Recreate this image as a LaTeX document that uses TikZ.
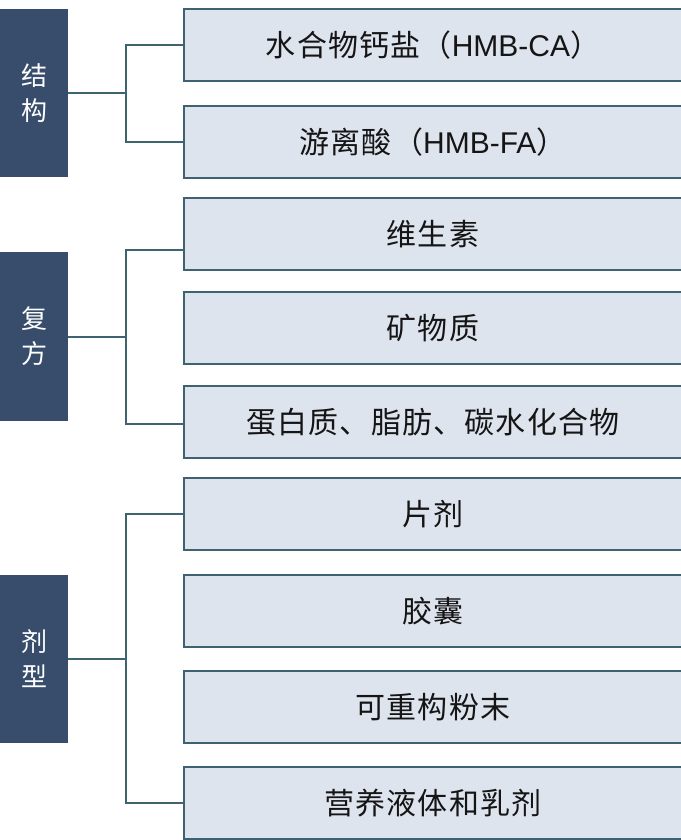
\documentclass[tikz,border=0pt]{standalone}
\usepackage{fontspec}
\setmainfont{Liberation Sans}
\newfontfamily\cjk{Noto Sans CJK SC}
\newfontfamily\cjkwide[LetterSpace=4]{Noto Sans CJK SC}
\definecolor{leftfill}{HTML}{384C6B}
\definecolor{boxfill}{HTML}{DEE4EE}
\definecolor{boxline}{HTML}{3E6272}
\definecolor{connline}{HTML}{3F6471}
\definecolor{txt}{HTML}{151515}
\tikzset{
  groupbox/.style={fill=leftfill, draw=none, inner sep=0pt, minimum width=68pt, minimum height=168pt,
    text=white, align=center, font=\cjk\fontsize{26}{35}\selectfont},
  itembox/.style={fill=boxfill, draw=boxline, line width=2pt, inner sep=0pt, minimum width=498pt, minimum height=72pt,
    text=txt, font=\fontsize{30}{34}\selectfont},
  conn/.style={draw=connline, line width=2pt}
}
\begin{document}
\begin{tikzpicture}[x=1pt,y=-1pt]
\useasboundingbox (0,0) rectangle (680,840);
% group boxes
\node[groupbox] (g1) at (34,93) {结\\构};
\node[groupbox, minimum height=169pt] (g2) at (34,336.5) {复\\方};
\node[groupbox] (g3) at (34,659) {剂\\型};
% item boxes
\node[itembox] (b1) at (433,45) {{\cjkwide 水合物钙盐（}HMB-CA{\cjk ）}};
\node[itembox] (b2) at (433,142) {{\cjkwide 游离酸（}HMB-FA{\cjk ）}};
\node[itembox] (b3) at (433,234) {\cjkwide 维生素};
\node[itembox] (b4) at (433,328) {\cjkwide 矿物质};
\node[itembox] (b5) at (433,422) {\cjkwide 蛋白质、脂肪、碳水化合物};
\node[itembox] (b6) at (433,514) {\cjkwide 片剂};
\node[itembox] (b7) at (433,611) {\cjkwide 胶囊};
\node[itembox] (b8) at (433,707) {\cjkwide 可重构粉末};
\node[itembox] (b9) at (433,803) {\cjkwide 营养液体和乳剂};
% junctions
\coordinate (j1) at (126,93);
\coordinate (j2) at (126,336.5);
\coordinate (j3) at (126,659);
% connectors
\draw[conn] (g1.east) -- (j1);
\draw[conn] (b1.west) -| (j1);
\draw[conn] (b2.west) -| (j1);
\draw[conn] (g2.east) -- (j2);
\draw[conn] ([yshift=-16pt]b3.west) -| (j2);
\draw[conn] ([yshift=-2pt]b5.west) -| (j2);
\draw[conn] (g3.east) -- (j3);
\draw[conn] (b6.west) -| (j3);
\draw[conn] (b9.west) -| (j3);
\end{tikzpicture}
\end{document}
